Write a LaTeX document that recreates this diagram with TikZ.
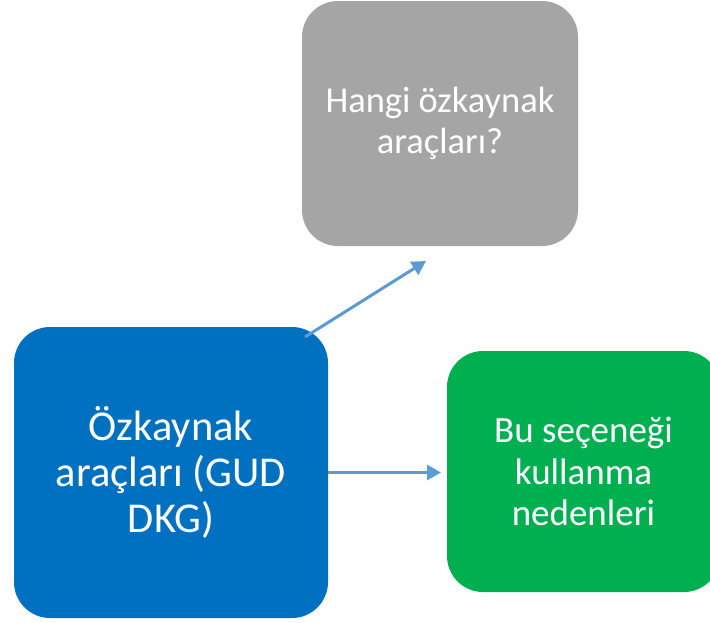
\documentclass[tikz,border=0pt]{standalone}
\usepackage{fontspec}
\setmainfont{Carlito}
\usetikzlibrary{arrows.meta}
\definecolor{boxgray}{HTML}{A5A5A5}
\definecolor{boxblue}{HTML}{0070C0}
\definecolor{boxgreen}{HTML}{00B050}
\definecolor{arrblue}{HTML}{5B9BD5}
\tikzset{
  card/.style={rounded corners=36pt, inner sep=0pt, text=white, align=center, draw=none},
  arr/.style={draw=arrblue, line width=3pt, -{Triangle[length=14pt,width=15pt]}}
}
\begin{document}
\begin{tikzpicture}[x=1pt,y=-1pt]
\useasboundingbox (0,0) rectangle (710,622);
\clip (0,0) rectangle (710,622);
\node[card, fill=boxgray, minimum width=276pt, minimum height=245pt,
  font=\fontsize{36.5}{41}\selectfont] (gray) at (440,123.5) {Hangi özkaynak\\araçları?};
\node[card, fill=boxblue, minimum width=314pt, minimum height=291pt,
  font=\fontsize{42.5}{46}\selectfont] (blue) at (171,472.5) {Özkaynak\\araçları (GUD\\DKG)};
\node[card, fill=boxgreen, minimum width=273pt, minimum height=241pt,
  font=\fontsize{37}{41.5}\selectfont] (green) at (583.5,471.5) {Bu seçeneği\\kullanma\\nedenleri};
\coordinate (s1) at (305,337);
\coordinate (t1) at (426,261);
\coordinate (t2) at (441,472.5);
\draw[arr] (s1) -- (t1);
\draw[arr] (blue.east) -- (t2);
\end{tikzpicture}
\end{document}
